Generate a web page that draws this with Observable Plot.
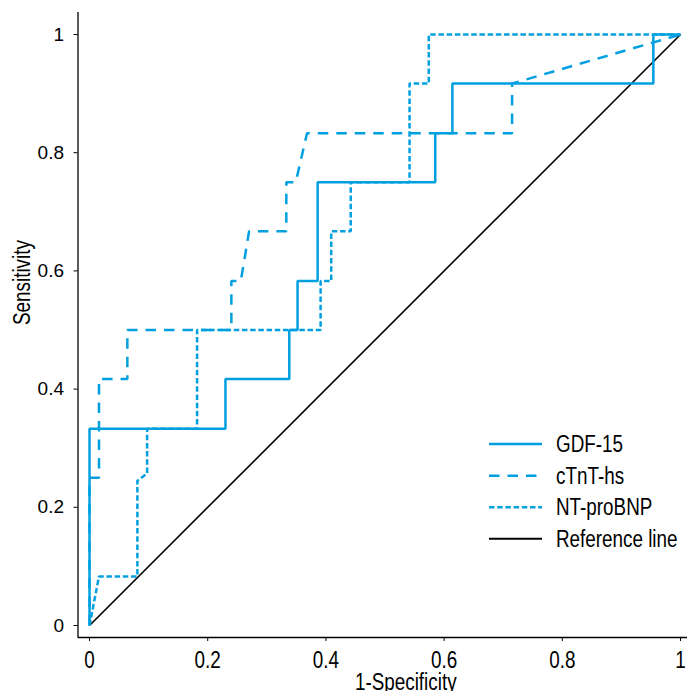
<!DOCTYPE html>
<html>
<head>
<meta charset="utf-8">
<script src="https://cdn.jsdelivr.net/npm/d3@7"></script>
<script src="https://cdn.jsdelivr.net/npm/@observablehq/plot@0.6"></script>
<style>
  html, body { margin: 0; padding: 0; background: #fff; }
  #wrap { position: relative; width: 687px; height: 691px; }
  #legend { position: absolute; left: 0; top: 0; pointer-events: none; }
</style>
</head>
<body>
<div id="wrap"></div>
<script>
// ---- data ----
const xTicks = [0, 0.2, 0.4, 0.6, 0.8, 1];
const yTicks = [0, 0.2, 0.4, 0.6, 0.8, 1];
const seriesNames = ["GDF-15", "cTnT-hs", "NT-proBNP", "Reference line"];

const gdfX = [0, 0, 0.23, 0.23, 0.338, 0.338, 0.352, 0.352, 0.386, 0.386, 0.585, 0.585, 0.614, 0.614, 0.954, 0.954, 1];
const gdfY = [0, 0.333, 0.333, 0.417, 0.417, 0.5, 0.5, 0.583, 0.583, 0.75, 0.75, 0.833, 0.833, 0.917, 0.917, 1, 1];

const ctntX = [0, 0, 0.016, 0.016, 0.064, 0.064, 0.24, 0.24, 0.256, 0.27, 0.333, 0.333, 0.349, 0.368, 0.715, 0.715, 1];
const ctntY = [0, 0.25, 0.25, 0.417, 0.417, 0.5, 0.5, 0.583, 0.583, 0.667, 0.667, 0.75, 0.75, 0.833, 0.833, 0.917, 1];

const ntX = [0, 0.016, 0.081, 0.081, 0.0975, 0.0975, 0.182, 0.182, 0.391, 0.391, 0.409, 0.409, 0.442, 0.442, 0.5415, 0.5415, 0.574, 0.574, 1];
const ntY = [0, 0.083, 0.083, 0.245, 0.257, 0.333, 0.333, 0.5, 0.5, 0.583, 0.583, 0.667, 0.667, 0.75, 0.75, 0.917, 0.917, 1, 1];

const refX = [0, 1];
const refY = [0, 1];

// ---- styling ----
const blue = "#00a0e0";
const sans = "'Liberation Sans', Arial, sans-serif";
const narrowFactor = 0.82; // emulate a condensed face
const xDomain = [-0.0195, 1.0118];
const yDomain = [-0.0203, 1.0372];
const styles = [
  {stroke: blue, strokeWidth: 2.5, dash: null},
  {stroke: blue, strokeWidth: 2.5, dash: "10.5,8"},
  {stroke: blue, strokeWidth: 2.5, dash: "5.5,2.7"},
  {stroke: "#000", strokeWidth: 1.6, dash: null}
];

const pts = (xs, ys) => xs.map((x, i) => [x, ys[i]]);
const series = [pts(gdfX, gdfY), pts(ctntX, ctntY), pts(ntX, ntY), pts(refX, refY)];

const lineMark = (data, s) => Plot.line(data, {
  x: d => d[0], y: d => d[1], stroke: s.stroke, strokeWidth: s.strokeWidth,
  strokeDasharray: s.dash, strokeLinecap: "butt", strokeLinejoin: "miter", curve: "linear"
});

const chart = Plot.plot({
  width: 687, height: 691,
  marginLeft: 77.5, marginRight: 0, marginTop: 12, marginBottom: 54,
  x: {domain: xDomain},
  y: {domain: yDomain},
  style: {fontFamily: sans, background: "#fff", color: "#000"},
  marks: [
    Plot.ruleX([xDomain[0]], {stroke: "#000", strokeWidth: 1.3}),
    Plot.ruleY([yDomain[0]], {stroke: "#000", strokeWidth: 1.3}),
    Plot.axisX({ticks: xTicks, tickSize: 4, tickPadding: 10, tickFormat: d => String(d),
      fontSize: 23, label: null, ariaLabel: "x-axis"}),
    Plot.axisY({ticks: yTicks, tickSize: 4, tickPadding: 10, tickFormat: d => String(d),
      fontSize: 19, label: null, ariaLabel: "y-axis"}),
    lineMark(series[3], styles[3]),
    lineMark(series[2], styles[2]),
    lineMark(series[1], styles[1]),
    lineMark(series[0], styles[0]),
    Plot.text(["1-Specificity"], {frameAnchor: "bottom", dx: 23, dy: 52, lineAnchor: "bottom",
      fontSize: 23, fill: "#000"}),
    Plot.text(["Sensitivity"], {frameAnchor: "left", dx: -48, rotate: -90, lineAnchor: "bottom",
      fontSize: 23, fill: "#000"})
  ]
});

const wrap = document.getElementById("wrap");
wrap.appendChild(chart);

// ---- legend (overlay) ----
const leg = d3.select(wrap).append("svg").attr("id", "legend")
  .attr("width", 687).attr("height", 691);
const rowY = [444, 475.7, 507.3, 538.7];
seriesNames.forEach((name, i) => {
  const s = styles[i];
  const g = leg.append("g").attr("transform", `translate(0,${rowY[i]})`);
  g.append("line").attr("x1", 489).attr("x2", 542).attr("y1", 0).attr("y2", 0)
    .attr("stroke", s.stroke).attr("stroke-width", i === 3 ? 2 : s.strokeWidth)
    .attr("stroke-dasharray", s.dash).attr("stroke-linecap", "butt");
  g.append("text").attr("x", 0).attr("y", 0).attr("dy", "0.35em")
    .attr("transform", `translate(556,0) scale(${narrowFactor},1)`)
    .attr("font-family", sans).attr("font-size", 23).attr("fill", "#000").text(name);
});

// condense the chart's texts except the y tick labels
const yAxisTexts = new Set(chart.querySelectorAll('g[aria-label^="y-axis"] text'));
chart.querySelectorAll("text").forEach(t => {
  if (yAxisTexts.has(t)) return;
  const w = t.getComputedTextLength();
  if (w > 0) {
    t.setAttribute("textLength", (w * narrowFactor).toFixed(2));
    t.setAttribute("lengthAdjust", "spacingAndGlyphs");
  }
});
</script>
</body>
</html>
